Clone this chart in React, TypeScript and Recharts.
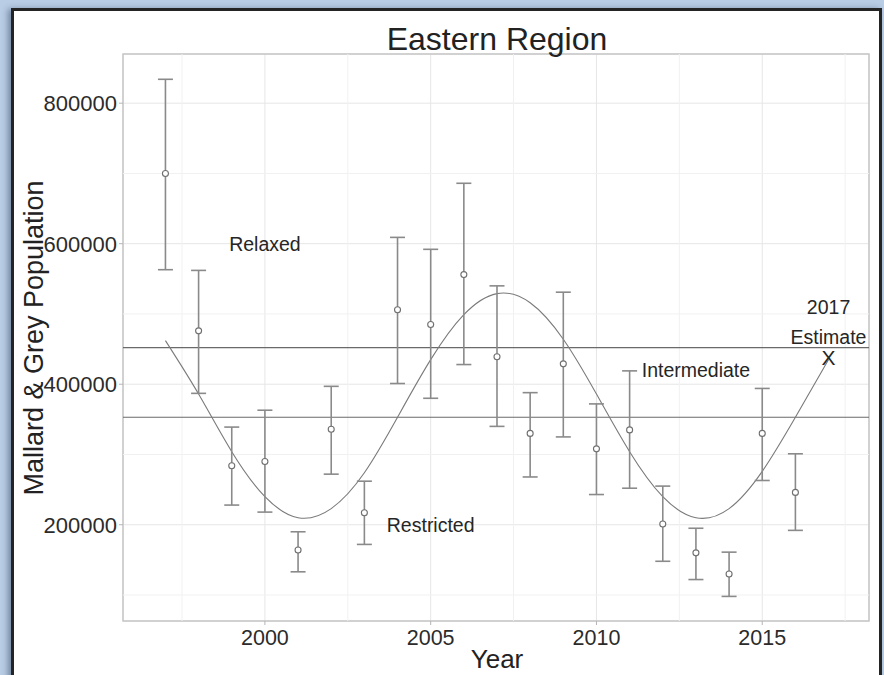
import React from 'react';
import {
  ComposedChart,
  Scatter,
  Line,
  XAxis,
  YAxis,
  CartesianGrid,
  ReferenceLine,
  ReferenceArea,
  ErrorBar,
} from 'recharts';

const FONT = '"Liberation Sans", Arial, Helvetica, sans-serif';

// survey estimates with interval bounds
const years = [1997, 1998, 1999, 2000, 2001, 2002, 2003, 2004, 2005, 2006, 2007, 2008, 2009, 2010, 2011, 2012, 2013, 2014, 2015, 2016];
const means = [700000, 476000, 284000, 290000, 164000, 336000, 217000, 506000, 485000, 556000, 439000, 330000, 429000, 308000, 335000, 201000, 160000, 130000, 330000, 246000];
const lowers = [563000, 387000, 228000, 218000, 133000, 272000, 172000, 401000, 380000, 428000, 340000, 268000, 325000, 243000, 252000, 148000, 122000, 98000, 263000, 192000];
const uppers = [834000, 562000, 339000, 363000, 190000, 397000, 262000, 609000, 592000, 686000, 540000, 388000, 531000, 372000, 419000, 255000, 195000, 161000, 394000, 301000];

// fitted cycle
const curveYears = [1997, 1998, 1999, 2000, 2001, 2002, 2003, 2004, 2005, 2006, 2007, 2008, 2009, 2010, 2011, 2012, 2013, 2014, 2015, 2016, 2017];
const curveValues = [462000, 386000, 304000, 240000, 210000, 223000, 274000, 353000, 435000, 499000, 529000, 516000, 464000, 386000, 304000, 240000, 210000, 223000, 276000, 353000, 435000];

// management thresholds
const thresholds = [452000, 353000];

// text annotations
const noteText = ['Relaxed', 'Restricted', 'Intermediate', '2017', 'Estimate', 'X'];
const noteYear = [2000, 2005, 2013, 2017, 2017, 2017];
const noteValue = [600000, 200000, 420000, 510000, 467000, 438000];

const xTicks = [2000, 2005, 2010, 2015];
const yTicks = [200000, 400000, 600000, 800000];
const xMinor = [1997.5, 2002.5, 2007.5, 2012.5, 2017.5];
const yMinor = [100000, 300000, 500000, 700000];

const X_DOMAIN: [number, number] = [1995.72, 2018.22];
const Y_DOMAIN: [number, number] = [63000, 870000];

const points = years.map((year, i) => ({
  year,
  value: means[i],
  err: [means[i] - lowers[i], uppers[i] - means[i]],
}));

const curve = curveYears.map((year, i) => ({ year, value: curveValues[i] }));

const notes = noteText.map((text, i) => ({ year: noteYear[i], value: noteValue[i], text }));

const OpenDot = (props: any) => (
  <circle cx={props.cx} cy={props.cy} r={3} fill="#fff" stroke="#6f6f6f" strokeWidth={1.1} />
);

const NoteText = (props: any) => (
  <text
    x={props.cx}
    y={props.cy}
    dy="0.36em"
    textAnchor="middle"
    fontFamily={FONT}
    fontSize={props.payload.text === 'X' ? 21 : 19.5}
    fill="#262626"
  >
    {props.payload.text}
  </text>
);

export default function App() {
  return (
    <div
      style={{
        position: 'fixed',
        left: 0,
        top: 0,
        width: 884,
        height: 675,
        overflow: 'hidden',
        background: '#b9cde5',
        fontFamily: FONT,
      }}
    >
      <div
        style={{
          position: 'absolute',
          left: 11,
          top: 8,
          width: 871,
          height: 720,
          background: '#fff',
          border: '3px solid #242424',
          boxSizing: 'border-box',
          boxShadow: '-3px 1px 6px rgba(30, 50, 80, 0.45)',
        }}
      />
      <div style={{ position: 'absolute', left: 0, top: 0 }}>
        <ComposedChart width={884} height={675} margin={{ top: 54, right: 15, bottom: 0, left: 0 }}>
          <CartesianGrid stroke="#e6e6e6" strokeWidth={1} />
          {xMinor.map((x) => (
            <ReferenceLine key={`xm-${x}`} x={x} stroke="#f1f1f1" strokeWidth={1} />
          ))}
          {yMinor.map((y) => (
            <ReferenceLine key={`ym-${y}`} y={y} stroke="#f1f1f1" strokeWidth={1} />
          ))}
          <ReferenceArea
            x1={X_DOMAIN[0]}
            x2={X_DOMAIN[1]}
            y1={Y_DOMAIN[0]}
            y2={Y_DOMAIN[1]}
            fill="none"
            stroke="#c6c6c6"
            strokeWidth={1.5}
            fillOpacity={0}
            ifOverflow="visible"
          />
          <XAxis
            type="number"
            dataKey="year"
            domain={X_DOMAIN}
            ticks={xTicks}
            allowDataOverflow
            height={54}
            axisLine={false}
            tickSize={4}
            tickMargin={5}
            tickLine={{ stroke: '#b5b5b5' }}
            tick={{ fontSize: 21.5, fill: '#2b2b2b', fontFamily: FONT }}
          />
          <YAxis
            type="number"
            dataKey="value"
            domain={Y_DOMAIN}
            ticks={yTicks}
            allowDataOverflow
            width={123}
            axisLine={false}
            tickSize={4}
            tickMargin={2}
            tickLine={{ stroke: '#b5b5b5' }}
            tick={{ fontSize: 22, fill: '#2b2b2b', fontFamily: FONT }}
          />
          {thresholds.map((t) => (
            <ReferenceLine key={`t-${t}`} y={t} stroke="#6a6a6a" strokeWidth={1.2} />
          ))}
          <Line
            data={curve}
            dataKey="value"
            type="natural"
            stroke="#7a7a7a"
            strokeWidth={1.1}
            dot={false}
            activeDot={false}
            isAnimationActive={false}
          />
          <Scatter data={points} dataKey="value" shape={OpenDot} isAnimationActive={false}>
            <ErrorBar dataKey="err" direction="y" width={7.5} stroke="#8a8a8a" strokeWidth={1.6} />
          </Scatter>
          <Scatter data={notes} dataKey="value" shape={NoteText} isAnimationActive={false} />
        </ComposedChart>
      </div>
      <svg
        width={884}
        height={675}
        style={{ position: 'absolute', left: 0, top: 0, pointerEvents: 'none' }}
      >
        <text x={497} y={50} textAnchor="middle" fontFamily={FONT} fontSize={32} fill="#222">
          Eastern Region
        </text>
        <text x={497} y={668} textAnchor="middle" fontFamily={FONT} fontSize={26} fill="#222">
          Year
        </text>
        <text
          transform="translate(43, 338) rotate(-90)"
          textAnchor="middle"
          fontFamily={FONT}
          fontSize={27}
          fill="#222"
        >
          Mallard &amp; Grey Population
        </text>
      </svg>
    </div>
  );
}
